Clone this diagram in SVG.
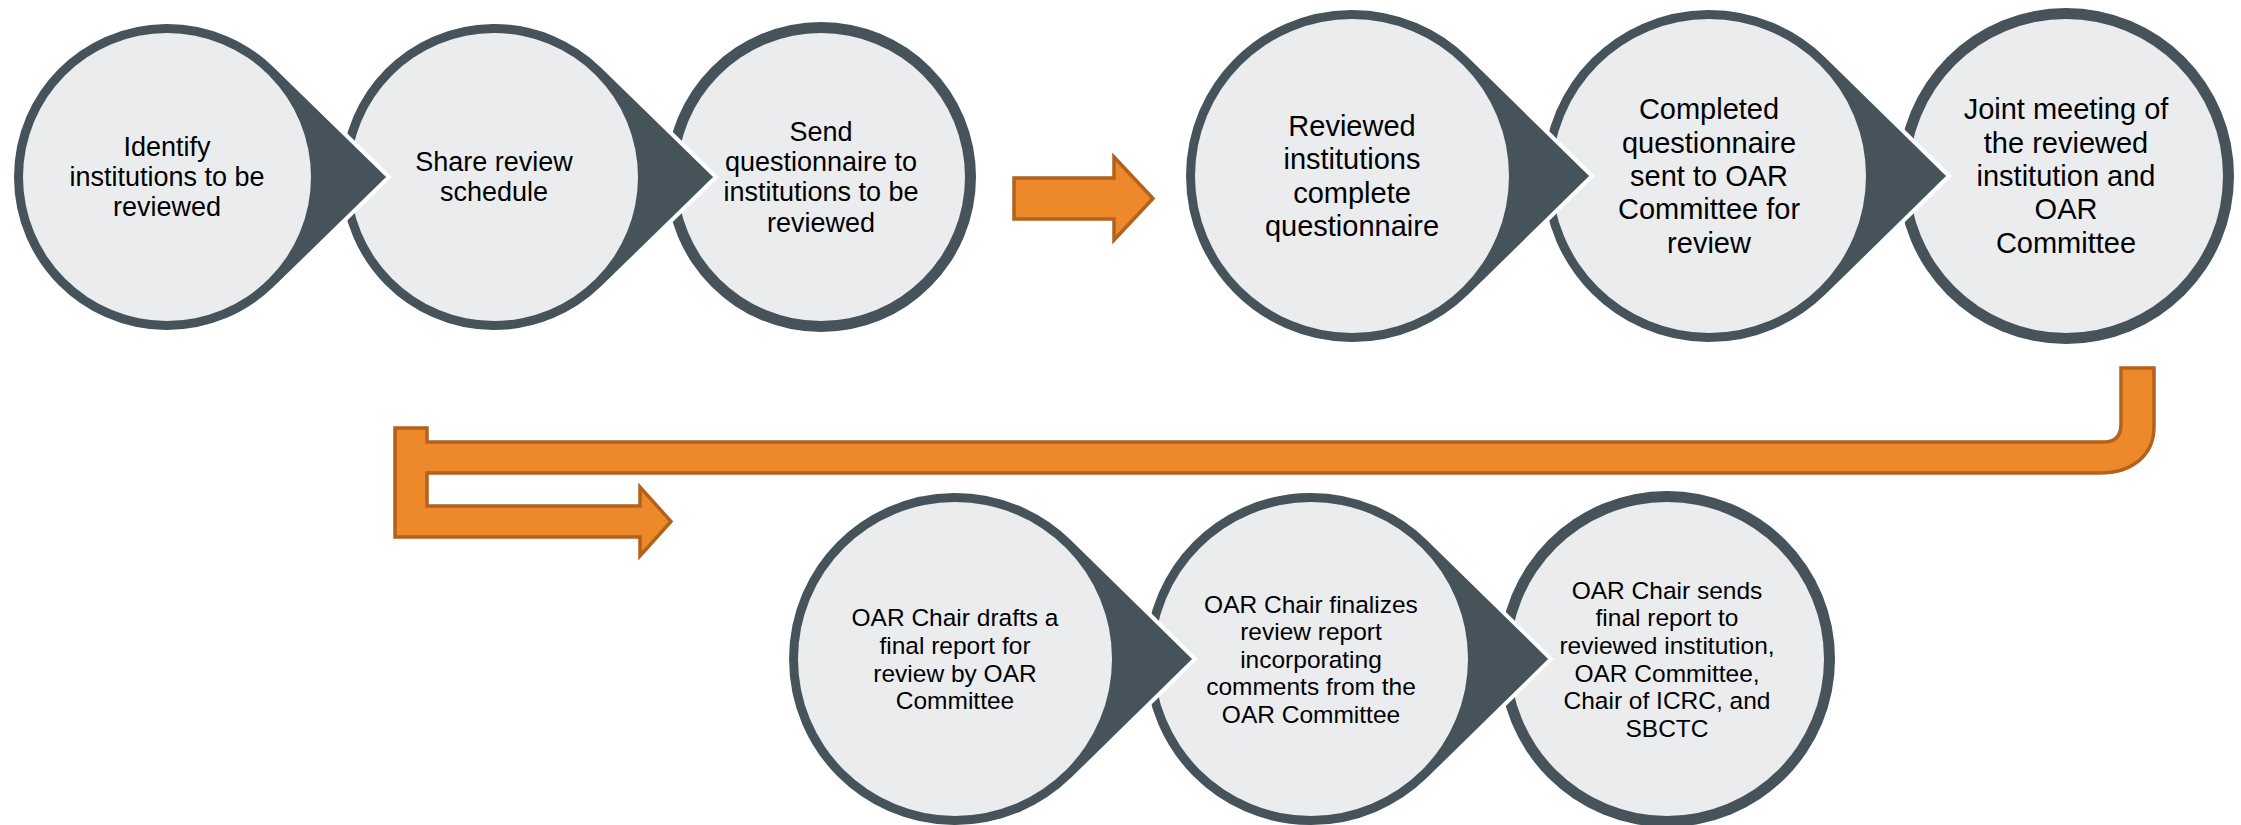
<svg xmlns="http://www.w3.org/2000/svg" width="2241" height="825" viewBox="0 0 2241 825">
<style>
.drop{fill:#46535A;stroke:#FFFFFF;stroke-width:4;stroke-linejoin:miter}
.ring{fill:#46535A}
.in{fill:#EBECEE}
.t{font-family:"Liberation Sans",Arial,sans-serif;fill:#000000;text-anchor:middle}
.t1{font-size:27px}
.t2{font-size:29px}
.t3{font-size:24.5px}
.arr{fill:#ED882B;stroke:#B3621D;stroke-width:3.5;stroke-linejoin:miter}
</style>
<rect width="2241" height="825" fill="#FFFFFF"/>

<g id="connectors">
<path class="arr" d="M1014,178 H1114 V157 L1153,198.5 L1114,240 V219 H1014 Z"/>
<path class="arr" d="M395,428 H427 V442 H2104 Q2121,442 2121,424 V368 H2154 V427 C2154,456 2131,473 2100,473 H427 V506 H640 V487 L671,521.5 L640,556 V537 H395 Z"/>
</g>

<g id="node3">
<circle class="ring" cx="821" cy="177" r="155"/>
<circle class="in" cx="821" cy="177" r="144"/>
<text class="t t1" x="821" y="140.6"><tspan x="821">Send</tspan><tspan x="821" dy="30.3">questionnaire to</tspan><tspan x="821" dy="30.3">institutions to be</tspan><tspan x="821" dy="30.3">reviewed</tspan></text>
</g>
<g id="node2">
<path class="drop" d="M716,177 L602.2,66 A155,155 0 1 0 602.2,288 Z"/>
<circle class="in" cx="494" cy="177" r="144"/>
<text class="t t1" x="494" y="170.9"><tspan x="494">Share review</tspan><tspan x="494" dy="30.3">schedule</tspan></text>
</g>
<g id="node1">
<path class="drop" d="M389,177 L275.2,66 A155,155 0 1 0 275.2,288 Z"/>
<circle class="in" cx="167" cy="177" r="144"/>
<text class="t t1" x="167" y="155.7"><tspan x="167">Identify</tspan><tspan x="167" dy="30.3">institutions to be</tspan><tspan x="167" dy="30.3">reviewed</tspan></text>
</g>

<g id="node6">
<circle class="ring" cx="2066" cy="176" r="168"/>
<circle class="in" cx="2066" cy="176" r="157"/>
<text class="t t2" x="2066" y="119.4"><tspan x="2066">Joint meeting of</tspan><tspan x="2066" dy="33.3">the reviewed</tspan><tspan x="2066" dy="33.3">institution and</tspan><tspan x="2066" dy="33.3">OAR</tspan><tspan x="2066" dy="33.3">Committee</tspan></text>
</g>
<g id="node5">
<path class="drop" d="M1949,176 L1826.6,56 A168,168 0 1 0 1826.6,296 Z"/>
<circle class="in" cx="1709" cy="176" r="157"/>
<text class="t t2" x="1709" y="119.4"><tspan x="1709">Completed</tspan><tspan x="1709" dy="33.3">questionnaire</tspan><tspan x="1709" dy="33.3">sent to OAR</tspan><tspan x="1709" dy="33.3">Committee for</tspan><tspan x="1709" dy="33.3">review</tspan></text>
</g>
<g id="node4">
<path class="drop" d="M1592,176 L1469.6,56 A168,168 0 1 0 1469.6,296 Z"/>
<circle class="in" cx="1352" cy="176" r="157"/>
<text class="t t2" x="1352" y="136"><tspan x="1352">Reviewed</tspan><tspan x="1352" dy="33.3">institutions</tspan><tspan x="1352" dy="33.3">complete</tspan><tspan x="1352" dy="33.3">questionnaire</tspan></text>
</g>

<g id="node9">
<circle class="ring" cx="1667" cy="659" r="168"/>
<circle class="in" cx="1667" cy="659" r="157"/>
<text class="t t3" x="1667" y="598.7"><tspan x="1667">OAR Chair sends</tspan><tspan x="1667" dy="27.6">final report to</tspan><tspan x="1667" dy="27.6">reviewed institution,</tspan><tspan x="1667" dy="27.6">OAR Committee,</tspan><tspan x="1667" dy="27.6">Chair of ICRC, and</tspan><tspan x="1667" dy="27.6">SBCTC</tspan></text>
</g>
<g id="node8">
<path class="drop" d="M1551,659 L1428.6,539 A168,168 0 1 0 1428.6,779 Z"/>
<circle class="in" cx="1311" cy="659" r="157"/>
<text class="t t3" x="1311" y="612.5"><tspan x="1311">OAR Chair finalizes</tspan><tspan x="1311" dy="27.6">review report</tspan><tspan x="1311" dy="27.6">incorporating</tspan><tspan x="1311" dy="27.6">comments from the</tspan><tspan x="1311" dy="27.6">OAR Committee</tspan></text>
</g>
<g id="node7">
<path class="drop" d="M1195,659 L1072.6,539 A168,168 0 1 0 1072.6,779 Z"/>
<circle class="in" cx="955" cy="659" r="157"/>
<text class="t t3" x="955" y="626.3"><tspan x="955">OAR Chair drafts a</tspan><tspan x="955" dy="27.6">final report for</tspan><tspan x="955" dy="27.6">review by OAR</tspan><tspan x="955" dy="27.6">Committee</tspan></text>
</g>
</svg>
